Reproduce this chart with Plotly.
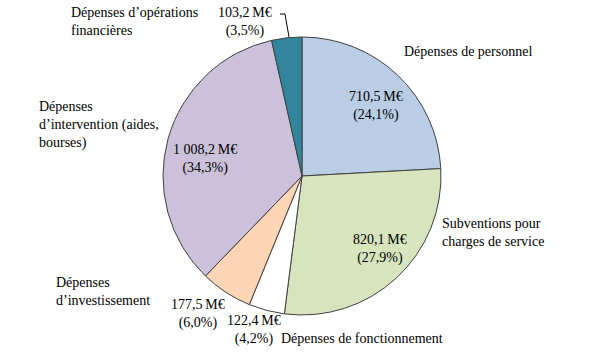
import plotly.graph_objects as go

categories = ["Dépenses de personnel", "Subventions pour charges de service",
              "Dépenses de fonctionnement", "Dépenses d’investissement",
              "Dépenses d’intervention (aides, bourses)", "Dépenses d’opérations financières"]
values = [710.5, 820.1, 122.4, 177.5, 1008.2, 103.2]
percents = ["24,1%", "27,9%", "4,2%", "6,0%", "34,3%", "3,5%"]
value_labels = ["710,5\u2009M€", "820,1\u2009M€", "122,4\u2009M€", "177,5\u2009M€", "1\u00a0008,2\u2009M€", "103,2\u2009M€"]
colors = ["#b9cde5", "#d7e4bd", "#ffffff", "#fcd5b5", "#ccc1da", "#31859c"]

# label layout: (name text, name x, name y, name anchor, value x, value y) in pixels
name_texts = ["Dépenses de personnel", "Subventions pour<br>charges de service",
              "Dépenses de fonctionnement", "Dépenses<br>d’investissement",
              "Dépenses<br>d’intervention (aides,<br>bourses)", "Dépenses d’opérations<br>financières"]
name_pos = [(402, 52, "left"), (440, 232, "left"), (279, 338, "left"),
            (54, 291, "left"), (37, 125, "left"), (69, 22, "left")]
value_pos = [(376, 106), (380, 249), (254, 330), (198, 314), (205, 159), (245, 22)]

W, H = 606, 353
fig = go.Figure()
fig.add_trace(go.Pie(
    labels=categories, values=values, sort=False, direction="clockwise", rotation=0,
    marker=dict(colors=colors, line=dict(color="#404040", width=1)),
    textinfo="none", hoverinfo="label+value", showlegend=False,
    domain=dict(x=[163 / W, 441 / W], y=[(H - 315) / H, (H - 37) / H]),
))

font = dict(family="Liberation Serif, DejaVu Serif, serif", size=14, color="#000000")
anns = []
for t, (x, y, a) in zip(name_texts, name_pos):
    anns.append(dict(text=t, x=x / W, y=1 - y / H, xref="paper", yref="paper",
                     xanchor=a, yanchor="middle", align=a, showarrow=False, font=font))
for v, p, (x, y) in zip(value_labels, percents, value_pos):
    anns.append(dict(text=f"{v}<br>({p})", x=x / W, y=1 - y / H, xref="paper", yref="paper",
                     xanchor="center", yanchor="middle", align="center", showarrow=False, font=font))
fig.update_layout(annotations=anns)

def P(x, y):
    return f"{x / W},{1 - y / H}"

fig.add_shape(type="path", xref="paper", yref="paper",
              path=f"M {P(280, 14)} L {P(285, 14)} L {P(289, 37)}",
              line=dict(color="#000000", width=1))

fig.update_layout(width=W, height=H, margin=dict(l=0, r=0, t=0, b=0),
                  paper_bgcolor="white", plot_bgcolor="white")
fig.write_html("out.html")
